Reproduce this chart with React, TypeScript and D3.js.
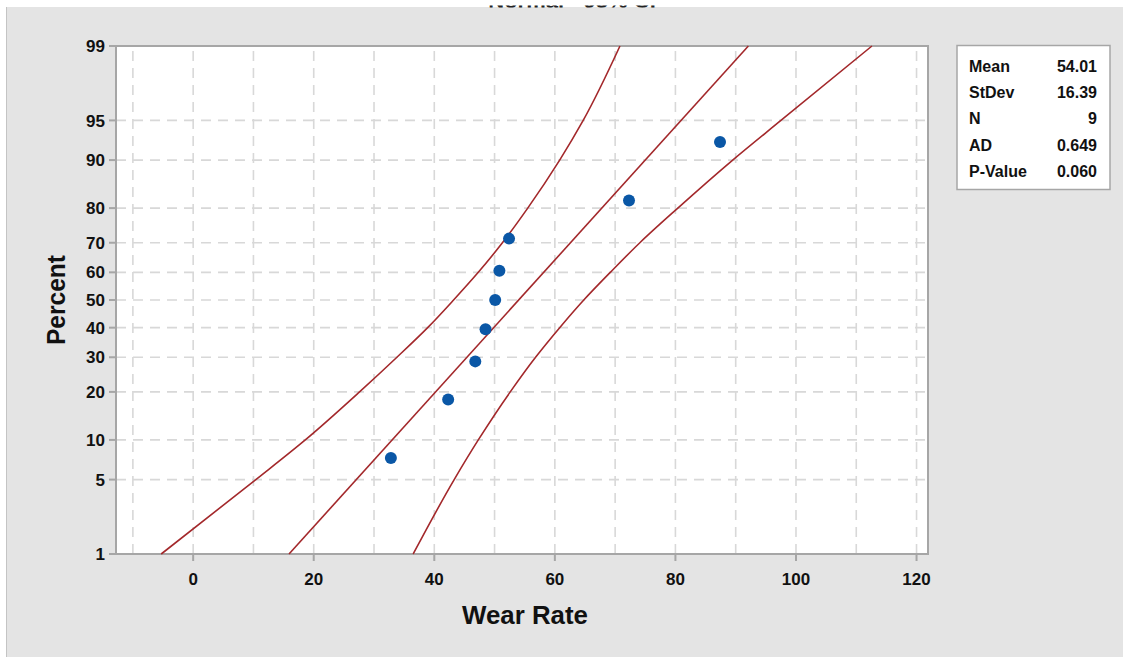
import React, { useEffect, useRef } from 'react'
import * as d3 from 'd3'

// observed wear rates with their plotting percentiles (median ranks)
const wearRates = [32.8, 42.3, 46.8, 48.5, 50.1, 50.8, 52.4, 72.3, 87.4]
const percents = [7.4, 18.1, 28.7, 39.4, 50, 60.6, 71.3, 81.9, 92.6]

// fitted line ends
const fitPct = [1, 99]
const fitVals = [15.9, 92.1]

// 95% confidence band read at the percent ticks
const ciPct = [1, 5, 10, 20, 30, 40, 50, 60, 70, 80, 90, 95, 99]
const ciLower = [-5.3, 10.4, 18.6, 27.6, 33.8, 38.9, 43.2, 47.3, 51.3, 55.5, 60.8, 64.7, 70.8]
const ciUpper = [36.5, 43.3, 47.3, 52.6, 56.8, 60.8, 64.8, 69.2, 74.1, 80.4, 89.5, 97.5, 112.6]

const yTicks = [1, 5, 10, 20, 30, 40, 50, 60, 70, 80, 90, 95, 99]
const xTicks = [0, 20, 40, 60, 80, 100, 120]
const xGrid = [-10, 0, 10, 20, 30, 40, 50, 60, 70, 80, 90, 100, 110, 120]

const statLabels = ['Mean', 'StDev', 'N', 'AD', 'P-Value']
const statValues = ['54.01', '16.39', '9', '0.649', '0.060']

// inverse standard normal cdf (Acklam)
function qnorm(p: number): number {
  const a = [-39.69683028665376, 220.9460984245205, -275.9285104469687, 138.357751867269, -30.66479806614716, 2.506628277459239]
  const b = [-54.47609879822406, 161.5858368580409, -155.6989798598866, 66.80131188771972, -13.28068155288572]
  const c = [-0.007784894002430293, -0.3223964580411365, -2.400758277161838, -2.549732539343734, 4.374664141464968, 2.938163982698783]
  const d = [0.007784695709041462, 0.3224671290700398, 2.445134137142996, 3.754408661907416]
  const pl = 0.02425
  if (p < pl) {
    const q = Math.sqrt(-2 * Math.log(p))
    return (((((c[0] * q + c[1]) * q + c[2]) * q + c[3]) * q + c[4]) * q + c[5]) /
      ((((d[0] * q + d[1]) * q + d[2]) * q + d[3]) * q + 1)
  }
  if (p > 1 - pl) {
    const q = Math.sqrt(-2 * Math.log(1 - p))
    return -(((((c[0] * q + c[1]) * q + c[2]) * q + c[3]) * q + c[4]) * q + c[5]) /
      ((((d[0] * q + d[1]) * q + d[2]) * q + d[3]) * q + 1)
  }
  const q = p - 0.5
  const r = q * q
  return (((((a[0] * r + a[1]) * r + a[2]) * r + a[3]) * r + a[4]) * r + a[5]) * q /
    (((((b[0] * r + b[1]) * r + b[2]) * r + b[3]) * r + b[4]) * r + 1)
}

const W = 1123
const H = 657
const left = 116
const right = 928
const top = 46
const bottom = 554
const font = '"Liberation Sans", Arial, sans-serif'

const App = () => {
  const ref = useRef<SVGSVGElement>(null)

  useEffect(() => {
    const svg = d3.select(ref.current)
    svg.selectAll('*').remove()

    const x = d3.scaleLinear().domain([-12.8, 121.9]).range([left, right])
    const z = d3.scaleLinear().domain([qnorm(0.01), qnorm(0.99)]).range([bottom, top])
    const y = (p: number) => z(qnorm(p / 100))

    svg.append('rect').attr('width', W).attr('height', H).attr('fill', '#ffffff')
    svg.append('rect').attr('x', 7).attr('y', 7).attr('width', W - 7).attr('height', H - 7).attr('fill', '#e4e4e4')
    svg.append('line').attr('x1', 6.5).attr('x2', 6.5).attr('y1', 7).attr('y2', H)
      .attr('stroke', '#c4c4c4').attr('stroke-width', 1)

    // clipped title remnant (the reference only shows its lowest pixels)
    svg.append('clipPath').attr('id', 'titleclip')
      .append('rect').attr('x', 0).attr('y', 5.5).attr('width', W).attr('height', 2)
    svg.append('text')
      .attr('clip-path', 'url(#titleclip)')
      .attr('x', 572).attr('y', 7.5)
      .attr('text-anchor', 'middle')
      .attr('font-family', font).attr('font-weight', 'bold').attr('font-size', 22)
      .attr('fill', '#222')
      .text('Normal - 95% CI')

    // plot area
    svg.append('rect').attr('x', left).attr('y', top).attr('width', right - left).attr('height', bottom - top)
      .attr('fill', '#ffffff')

    const grid = svg.append('g')
      .attr('stroke', '#d8d8d8').attr('stroke-width', 1.6).attr('stroke-dasharray', '10,7')
    grid.selectAll('line.v').data(xGrid).join('line').attr('class', 'v')
      .attr('x1', d => x(d)).attr('x2', d => x(d)).attr('y1', bottom).attr('y2', top)
    grid.selectAll('line.h').data(yTicks.filter(d => d > 1 && d < 99)).join('line').attr('class', 'h')
      .attr('x1', left).attr('x2', right).attr('y1', d => y(d)).attr('y2', d => y(d))

    // frame
    svg.append('rect').attr('x', left).attr('y', top).attr('width', right - left).attr('height', bottom - top)
      .attr('fill', 'none').attr('stroke', '#a6a6a6').attr('stroke-width', 2)

    // ticks
    const tk = svg.append('g').attr('stroke', '#a6a6a6').attr('stroke-width', 2)
    tk.selectAll('line.y').data(yTicks).join('line').attr('class', 'y')
      .attr('x1', left - 7).attr('x2', left).attr('y1', d => y(d)).attr('y2', d => y(d))
    tk.selectAll('line.x').data(xTicks).join('line').attr('class', 'x')
      .attr('x1', d => x(d)).attr('x2', d => x(d)).attr('y1', bottom).attr('y2', bottom + 7)

    svg.append('g')
      .attr('font-family', font).attr('font-weight', 'bold').attr('font-size', 17).attr('fill', '#111')
      .selectAll('text').data(yTicks).join('text')
      .attr('x', left - 11).attr('y', d => y(d)).attr('dy', '0.36em')
      .attr('text-anchor', 'end')
      .text(d => d)

    svg.append('g')
      .attr('font-family', font).attr('font-weight', 'bold').attr('font-size', 17).attr('fill', '#111')
      .selectAll('text').data(xTicks).join('text')
      .attr('x', d => x(d)).attr('y', 585)
      .attr('text-anchor', 'middle')
      .text(d => d)

    // axis titles
    svg.append('text')
      .attr('x', 525).attr('y', 624)
      .attr('text-anchor', 'middle')
      .attr('font-family', font).attr('font-weight', 'bold').attr('font-size', 25)
      .attr('fill', '#111')
      .attr('textLength', 126).attr('lengthAdjust', 'spacingAndGlyphs')
      .text('Wear Rate')
    svg.append('text')
      .attr('transform', `translate(65,${(top + bottom) / 2}) rotate(-90)`)
      .attr('text-anchor', 'middle')
      .attr('font-family', font).attr('font-weight', 'bold').attr('font-size', 25)
      .attr('fill', '#111')
      .attr('textLength', 90).attr('lengthAdjust', 'spacingAndGlyphs')
      .text('Percent')

    // fitted line and confidence band
    const lines = svg.append('g').attr('fill', 'none').attr('stroke', '#a3282b').attr('stroke-width', 1.6)
    const fit = fitPct.map((p, i) => [x(fitVals[i]), y(p)] as [number, number])
    lines.append('path').attr('d', d3.line()(fit))
    const curve = d3.line().curve(d3.curveMonotoneY)
    lines.append('path').attr('d', curve(ciPct.map((p, i) => [x(ciLower[i]), y(p)] as [number, number]).reverse()))
    lines.append('path').attr('d', curve(ciPct.map((p, i) => [x(ciUpper[i]), y(p)] as [number, number]).reverse()))

    // points
    svg.append('g').attr('fill', '#0a57a6')
      .selectAll('circle').data(wearRates).join('circle')
      .attr('cx', d => x(d)).attr('cy', (d, i) => y(percents[i])).attr('r', 6)

    // stats box
    const box = svg.append('g')
    box.append('rect').attr('x', 957).attr('y', 45.5).attr('width', 153).attr('height', 144)
      .attr('fill', '#ffffff').attr('stroke', '#a6a6a6').attr('stroke-width', 1.5)
    const rows = box.append('g')
      .attr('font-family', font).attr('font-weight', 'bold').attr('font-size', 16).attr('fill', '#111')
    rows.selectAll('text.l').data(statLabels).join('text').attr('class', 'l')
      .attr('x', 969).attr('y', (d, i) => 72 + i * 26.2).text(d => d)
    rows.selectAll('text.v').data(statValues).join('text').attr('class', 'v')
      .attr('x', 1097).attr('y', (d, i) => 72 + i * 26.2).attr('text-anchor', 'end').text(d => d)
  }, [])

  return (
    <svg ref={ref} width={W} height={H}
      style={{ position: 'absolute', left: 0, top: 0, display: 'block' }} />
  )
}

export default App
